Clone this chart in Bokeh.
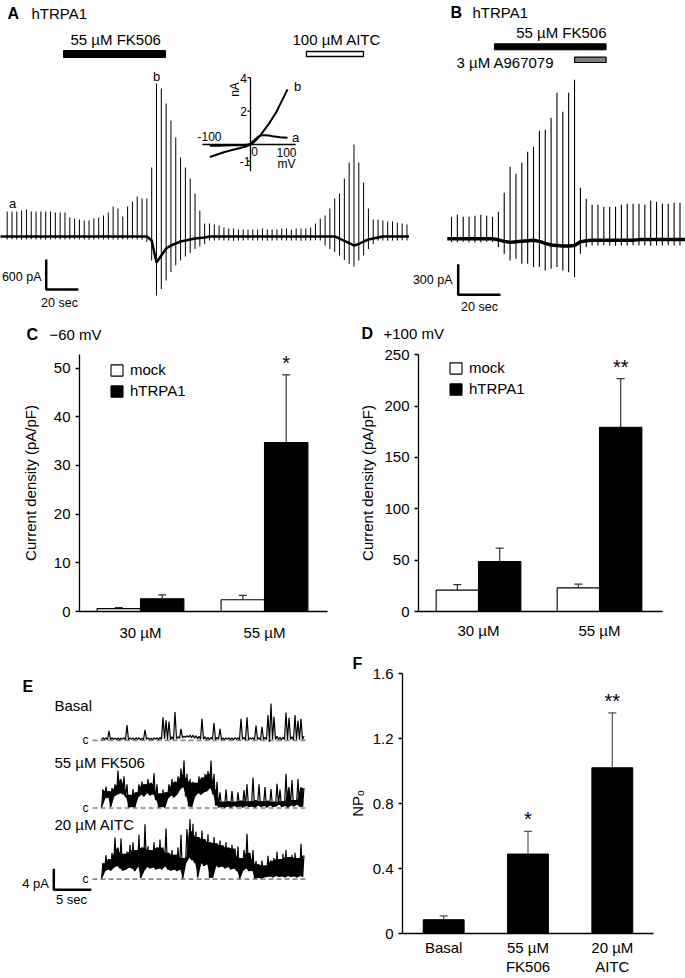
import math
from bokeh.plotting import figure
from bokeh.layouts import row, column
from bokeh.models import (Range1d, Label, Whisker, TeeHead, ColumnDataSource,
                          Legend, LegendItem, FixedTicker, Title)
from bokeh.embed import file_html
from bokeh.resources import INLINE
from bokeh.core.properties import value

FONT = "Liberation Sans"

# ============================ DATA ============================
# --- A: hTRPA1 whole-cell current, one voltage ramp every 3 s (pA) ---
a_ramp_interval = 3.0
a_peak = [500, 500, 500, 520, 540, 500, 500, 500, 500, 500, 480, 480, 480,
          380, 360, 340, 320, 320, 360, 380, 420, 480,
          600, 560, 400, 600, 700, 800, 760, 760,
          1380, 3060, 2960, 2660, 2320, 1980, 1580, 1380, 1160, 860, 520, 260,
          260, 240, 220, 180, 160, 160, 140, 140, 140, 140, 140, 160, 140, 140,
          140, 160, 160, 140, 160, 160, 160, 180,
          260, 360, 420, 560, 760, 860, 1160, 1480, 1840, 1480, 1080, 560, 340,
          340, 320, 300, 300, 280, 260, 240]
a_trough = [-60, -55, -60, -65, -60, -55, -60, -60, -65, -60, -55, -60, -60, -60, -55,
            -60, -60, -65, -60, -55, -60, -60, -60, -65, -60, -60, -55, -60, -65,
            -110,
            -480, -1180, -1050, -880, -710, -580, -480, -400, -330, -250, -200, -150,
            -80, -80, -75, -80, -80, -85, -80, -80, -75, -80, -80, -80, -85, -80,
            -80, -75, -80, -80, -80, -85, -80, -80, -75, -80,
            -180, -250, -310, -380, -470, -550, -600, -480, -380, -250, -150,
            -80, -80, -85, -80, -80, -75, -80]
a_hold = [0, 0, 0, 0, 0, 0, 0, 0, 0, 0, 0, 0, 0, 0, 0,
          0, 0, 0, 0, 0, 0, 0, 0, 0, 0, 0, 0, 0, 0, 0,
          -80, -520, -380, -240, -180, -140, -100, -80, -60, -40, -30, -20,
          0, 0, 0, 0, 0, 0, 0, 0, 0, 0, 0, 0, 0, 0,
          0, 0, 0, 0, 0, 0, 0, 0, 0, 0, 0, 0, 0,
          -40, -90, -130, -180, -150, -100, -60, -40, -20,
          0, 0, 0, 0, 0, 0]
a_record = [-4.5, 252.0]         # s
a_fk506 = [35.1, 98.6]           # s, application of 55 uM FK506
a_aitc = [186.4, 221.9]          # s, application of 100 uM AITC
a_scale = [20.0, 600.0]          # sec, pA

# inset I-V (mV, nA)
iv_mv = [-110, -90, -70, -50, -30, -10, 0, 10, 20, 30, 40, 50, 60, 70, 80, 90, 100]
iv_a = [-0.08, -0.07, -0.06, -0.05, -0.04, -0.02, 0.05, 0.25, 0.45, 0.55, 0.56,
        0.54, 0.5, 0.47, 0.44, 0.42, 0.4]
iv_b = [-0.75, -0.6, -0.45, -0.33, -0.22, -0.1, 0.0, 0.15, 0.38, 0.65, 0.95,
        1.25, 1.6, 1.95, 2.4, 2.85, 3.3]
iv_xlim = [-130, 122]
iv_ylim = [-1.6, 4.0]
iv_yticks = [-1, 2, 4]

# --- B: hTRPA1, ramps (pA) ---
b_ramp_interval = 2.77
b_peak = [215, 235, 215, 215, 225, 235, 225, 215, 264,
          450, 704, 636, 743, 851, 900, 1056, 1066, 1183, 1428, 1242, 1428, 1555,
          499, 391, 333, 333, 313, 313, 313, 333, 342, 342, 342, 333, 372, 362,
          342, 342, 352, 352]
b_trough = [-33, -33, -30, -33, -35, -33, -30, -33,
            -82, -147, -212, -196, -245, -245, -277, -277, -310, -293, -277, -310,
            -326, -375, -147, -82,
            -65, -65, -62, -65, -68, -65, -65, -62, -65, -65, -68, -65, -65, -62, -65, -65]
b_hold = [0, 0, 0, 0, 0, 0, 0, 0,
          -10, -25, -35, -30, -25, -20, -15, -25, -45, -60, -65, -70, -70, -65, -30, -20,
          -15, -15, -15, -15, -15, -15, -15, -15,
          -8, -8, -8, -8, -8, -8, -8, -8]
b_record = [-2.0, 112.0]
b_fk506 = [20.3, 73.1]
b_a967 = [58.2, 73.1]
b_scale = [20.0, 300.0]

# --- C / D: current density (pA/pF) ---
cd_groups = ["30 µM", "55 µM"]
c_mock = [0.6, 2.4]
c_mock_err = [0.8, 3.3]
c_trpa1 = [2.6, 34.7]
c_trpa1_err = [3.4, 48.6]
c_sig = ["", "*"]
d_mock = [20.8, 23.0]
d_mock_err = [26.2, 26.6]
d_trpa1 = [48.7, 179.5]
d_trpa1_err = [61.8, 226.8]
d_sig = ["", "**"]

# --- E: single-channel records (pA above closed level), sample every 0.4 s ---
e_dt = 0.4
e_names = ["Basal", "55 µM FK506", "20 µM AITC"]
basal_hi = [0.5, 0.5, 1.8, 0.5, 0.45, 0.5, 0.45, 0.5, 2.9, 0.5,
            0.45, 0.5, 0.5, 0.45, 2.0, 0.5, 0.45, 0.5, 0.5, 0.6,
            4.4, 3.8, 3.6, 0.7, 5.4, 0.7, 2.2, 0.8, 0.9, 1.0,
            1.0, 0.9, 0.8, 4.1, 0.7, 0.6, 0.6, 3.3, 0.6, 2.2,
            0.5, 0.5, 0.5, 0.5, 0.5, 0.5, 4.1, 0.6, 4.4, 0.5,
            0.5, 2.8, 0.5, 2.6, 0.6, 4.8, 7.0, 4.5, 0.8, 0.6,
            0.6, 5.3, 4.3, 0.7, 4.8, 3.7, 4.1, 0.8]
basal_lo = [0.15, 0.2, 0.1, 0.15, 0.2, 0.15, 0.1, 0.2, 0.15, 0.1,
            0.2, 0.15, 0.2, 0.1, 0.15, 0.2, 0.15, 0.1, 0.2, 0.15,
            0.2, 0.3, 0.2, 0.15, 0.2, 0.3, 0.4, 0.5, 0.6, 0.6,
            0.5, 0.4, 0.3, 0.2, 0.25, 0.2, 0.15, 0.2, 0.15, 0.2,
            0.1, 0.15, 0.2, 0.15, 0.1, 0.2, 0.15, 0.2, 0.1, 0.15,
            0.2, 0.15, 0.2, 0.1, 0.2, 0.15, -0.3, 0.2, 0.15, 0.2,
            0.1, 0.2, 0.15, 0.2, 0.1, 0.2, 0.15, 0.2]
fk_hi = [3.5, 4.0, 3.2, 3.8, 4.5, 7.1, 5.5, 6.0, 4.5, 2.5,
         3.6, 3.0, 4.5, 5.0, 4.5, 5.5, 4.8, 6.6, 4.5, 2.8,
         3.5, 3.0, 4.5, 5.5, 5.0, 6.0, 7.5, 9.0, 6.5, 5.5,
         5.0, 4.8, 6.0, 5.8, 6.5, 7.0, 9.0, 6.5, 5.0, 3.0,
         1.2, 3.5, 1.3, 3.2, 1.2, 3.0, 1.4, 3.4, 4.5, 1.3,
         5.8, 1.5, 4.5, 1.3, 4.0, 1.4, 3.6, 1.2, 4.6, 3.5,
         1.3, 6.5, 4.0, 5.3, 1.5, 5.5, 4.0, 3.8]
fk_lo = [0.1, 1.8, 2.0, 0.2, 2.2, 2.5, 2.8, 2.6, 2.0, 0.1,
         0.2, 0.1, 2.0, 2.5, 2.2, 2.8, 2.4, 2.6, 1.5, 0.1,
         0.2, 0.1, 1.8, 2.4, 2.0, 2.5, 3.5, 4.0, 2.2, 0.3,
         0.2, 2.2, 2.8, 2.5, 3.0, 3.2, 3.8, 2.6, 0.5, 0.1,
         0.2, 0.1, 0.3, 0.1, 0.4, 0.2, 0.3, 0.1, 0.4, 0.2,
         0.3, 0.1, 0.5, 0.2, 0.4, 0.1, 0.5, 0.2, 0.3, 0.6,
         0.2, 0.4, 0.1, 0.5, 0.3, 0.6, 0.2, 0.3]
aitc_hi = [3.0, 4.5, 3.8, 5.0, 7.9, 6.0, 7.7, 4.8, 5.2, 6.5,
           7.0, 5.5, 8.4, 6.0, 10.4, 6.2, 5.5, 7.0, 6.0, 7.5,
           6.0, 9.6, 5.0, 5.5, 4.6, 6.0, 8.4, 4.0, 9.5, 11.4,
           10.5, 9.0, 8.0, 9.2, 7.6, 8.5, 7.0, 8.0, 6.8, 7.3,
           6.4, 7.0, 6.0, 6.5, 5.8, 6.2, 4.0, 5.5, 8.6, 5.0,
           5.5, 3.4, 2.8, 3.5, 2.6, 4.4, 3.5, 4.0, 5.2, 3.8,
           4.8, 5.5, 4.2, 4.6, 5.0, 4.0, 6.7, 4.5]
aitc_lo = [0.1, 1.5, 1.8, 1.6, 2.2, 2.5, 2.0, 1.6, 1.8, 2.2,
           2.0, 1.5, 2.4, 0.2, 1.5, 2.3, 2.0, 2.2, 1.8, 2.0,
           1.8, 2.4, 1.8, 1.6, 1.8, 1.5, 1.8, 0.1, 3.0, 4.0,
           3.6, 3.0, 0.3, 3.0, 2.5, 2.8, 0.2, 0.3, 2.5, 2.2,
           2.4, 2.0, 2.3, 1.8, 2.0, 1.5, 0.1, 1.6, 2.0, 1.5,
           1.6, 0.1, 0.2, 0.1, 0.3, 0.4, 0.5, 0.3, 0.6, 0.4,
           0.5, 0.3, 0.6, 0.4, 0.5, 0.3, 0.6, 0.4]
e_scale = [5.0, 4.0]   # sec, pA

# --- F: NPo ---
f_labels = ["Basal", "55 µM\nFK506", "20 µM\nAITC"]
f_npo = [0.085, 0.489, 1.02]
f_err = [0.108, 0.628, 1.358]
f_sig = ["", "*", "**"]

# ============================ HELPERS ============================
def base_fig(w, h, xr, yr, axes=False, mb=(0, 0, 0, 0)):
    kw = {}
    if not axes:
        kw = dict(x_axis_location=None, y_axis_location=None)
    p = figure(width=w, height=h, x_range=Range1d(*xr), y_range=Range1d(*yr),
               toolbar_location=None, output_backend="svg", title=None, **kw)
    p.min_border_left, p.min_border_right, p.min_border_top, p.min_border_bottom = mb
    p.outline_line_color = None
    p.background_fill_color = "white"
    p.border_fill_color = "white"
    p.grid.visible = False
    return p


def put(p, conv, X, Y, text, size=15, align="left", bold=False, angle=0.0,
        baseline="middle"):
    x, y = conv(X, Y)
    p.add_layout(Label(x=x, y=y, text=text, text_font=FONT,
                       text_font_size=f"{size}px", text_align=align,
                       text_baseline=baseline, angle=angle,
                       text_font_style="bold" if bold else "normal",
                       text_color="black"))


def style_axes(p, xstand, ystand, ylab_stand):
    for ax in p.axis:
        ax.axis_line_width = 1.3
        ax.axis_line_color = "black"
        ax.major_tick_line_width = 1.3
        ax.major_tick_line_color = "black"
        ax.major_tick_out = 4
        ax.major_tick_in = 0
        ax.minor_tick_line_color = None
        ax.major_label_text_font = FONT
        ax.major_label_text_font_size = "15px"
        ax.major_label_text_color = "black"
        ax.axis_label_text_font = FONT
        ax.axis_label_text_font_size = "15px"
        ax.axis_label_text_font_style = "normal"
        ax.axis_label_text_color = "black"
    p.xaxis.major_tick_line_color = None
    p.xaxis.major_tick_out = 0
    p.xaxis.major_label_standoff = xstand
    p.yaxis.major_label_standoff = ystand
    p.yaxis.axis_label_standoff = ylab_stand


def zigzag(lo, hi, dt, offset):
    # noise drawn as an alternating path: band bottom at each sample, excursion between samples
    xs, ys = [], []
    for k, (l, h) in enumerate(zip(lo, hi)):
        xs += [k * dt, k * dt + dt / 2]
        ys += [l + offset, h + offset]
    return xs, ys


def dense_top(hi):
    # upper edge of the dense part of the band: lowest of neighbouring excursions
    n = len(hi)
    return [min(hi[max(0, k - 1):min(n, k + 2)]) for k in range(n)]


# ============================ PANEL A ============================
A_PXS = 1.6056            # px per second
conv_A = lambda X, Y: ((X - 6.67) / A_PXS, (236 - Y) * 20.0)
pa = base_fig(409, 318, ((0 - 6.67) / A_PXS, (409 - 6.67) / A_PXS),
              ((236 - 318) * 20.0, (236 - 0) * 20.0))
a_t = [a_ramp_interval * i for i in range(len(a_peak))]
pa.segment(x0=a_t, y0=a_trough, x1=a_t, y1=a_peak, line_color="black", line_width=1)
pa.line([a_record[0]] + a_t + [a_record[1]], [a_hold[0]] + a_hold + [a_hold[-1]],
        line_color="black", line_width=2.5)
_, y50 = conv_A(0, 50); _, y57 = conv_A(0, 57); _, y51 = conv_A(0, 51); _, y56 = conv_A(0, 56)
pa.quad(left=[a_fk506[0]], right=[a_fk506[1]], bottom=[y57], top=[y50],
        fill_color="black", line_color="black")
pa.quad(left=[a_aitc[0]], right=[a_aitc[1]], bottom=[y56], top=[y51],
        fill_color="white", line_color="black", line_width=1.3)
put(pa, conv_A, 7, 13, "A", size=16, bold=True)
put(pa, conv_A, 31, 13, "hTRPA1")
put(pa, conv_A, 70, 39, "55 µM FK506")
put(pa, conv_A, 292, 39, "100 µM AITC")
put(pa, conv_A, 12, 203, "a", size=13, align="center")
put(pa, conv_A, 156, 76, "b", size=13, align="center")
# scale bar
sx0, sy0 = conv_A(45.7, 289)
pa.line([sx0, sx0, sx0 + a_scale[0]], [sy0 + a_scale[1], sy0, sy0],
        line_color="black", line_width=2.5)
put(pa, conv_A, 41, 276, "600 pA", size=12.5, align="right")
put(pa, conv_A, 59, 302, "20 sec", size=12.5, align="center")
# inset I-V
IV_PXMV, IV_PXNA = 0.37, 16.7
pa.extra_x_ranges = {"mv": Range1d((0 - 250) / IV_PXMV, (409 - 250) / IV_PXMV)}
pa.extra_y_ranges = {"na": Range1d((144 - 318) / IV_PXNA, (144 - 0) / IV_PXNA)}
pa.segment(x0=[iv_xlim[0], 0], y0=[0, iv_ylim[0]], x1=[iv_xlim[1], 0], y1=[0, iv_ylim[1]],
           x_range_name="mv", y_range_name="na", line_color="black", line_width=1.3)
tick_len = 3 / IV_PXMV
pa.segment(x0=[-tick_len] * len(iv_yticks), y0=iv_yticks, x1=[0] * len(iv_yticks), y1=iv_yticks,
           x_range_name="mv", y_range_name="na", line_color="black", line_width=1.2)
pa.line(iv_mv, iv_a, x_range_name="mv", y_range_name="na", line_color="black", line_width=2)
pa.line(iv_mv, iv_b, x_range_name="mv", y_range_name="na", line_color="black", line_width=2)
put(pa, conv_A, 243, 78, "4", size=12, align="center")
put(pa, conv_A, 243, 111, "2", size=12, align="center")
put(pa, conv_A, 250, 161, "-1", size=12, align="right")
put(pa, conv_A, 234, 89, "nA", size=12, align="center", angle=math.pi / 2)
put(pa, conv_A, 209, 136, "-100", size=12, align="center")
put(pa, conv_A, 254, 151, "0", size=12, align="center")
put(pa, conv_A, 286, 152, "100", size=12, align="center")
put(pa, conv_A, 286, 163, "mV", size=12, align="center")
put(pa, conv_A, 295, 137, "a", size=13, align="center")
put(pa, conv_A, 297, 86, "b", size=13, align="center")

# ============================ PANEL B ============================
B_PXS, B_PAPX = 2.115, 9.78
conv_B = lambda X, Y: ((X - 451) / B_PXS, (238.3 - Y) * B_PAPX)
pb = base_fig(276, 318, ((409 - 451) / B_PXS, (685 - 451) / B_PXS),
              ((238.3 - 318) * B_PAPX, (238.3 - 0) * B_PAPX))
b_t = [b_ramp_interval * j for j in range(len(b_peak))]
pb.segment(x0=b_t, y0=b_trough, x1=b_t, y1=b_peak, line_color="black", line_width=1.1)
pb.line([b_record[0]] + b_t + [b_record[1]], [b_hold[0]] + b_hold + [b_hold[-1]],
        line_color="black", line_width=3.5)
_, yb1 = conv_B(0, 43.3); _, yb2 = conv_B(0, 49.3)
pb.quad(left=[b_fk506[0]], right=[b_fk506[1]], bottom=[yb2], top=[yb1],
        fill_color="black", line_color="black")
_, yg1 = conv_B(0, 56.7); _, yg2 = conv_B(0, 62)
pb.quad(left=[b_a967[0]], right=[b_a967[1]], bottom=[yg2], top=[yg1],
        fill_color="#808080", line_color="black", line_width=1.2)
put(pb, conv_B, 450, 11.5, "B", size=16, bold=True)
put(pb, conv_B, 472, 11.5, "hTRPA1")
put(pb, conv_B, 606, 32, "55 µM FK506", align="right")
put(pb, conv_B, 456, 61.5, "3 µM A967079")
bx0, by0 = conv_B(457.7, 294.3)
pb.line([bx0, bx0, bx0 + b_scale[0]], [by0 + b_scale[1], by0, by0],
        line_color="black", line_width=2.5)
put(pb, conv_B, 452, 279, "300 pA", size=12.5, align="right")
put(pb, conv_B, 479, 306, "20 sec", size=12.5, align="center")

# ============================ HEADER ROW (C / D titles) ============================
conv_H = lambda X, Y: (X, Y)
ph = base_fig(685, 28, (0, 685), (346, 318))
put(ph, conv_H, 26, 334, "C", size=16, bold=True)
put(ph, conv_H, 49, 334, "−60 mV")
put(ph, conv_H, 361, 333, "D", size=16, bold=True)
put(ph, conv_H, 383, 333, "+100 mV")

# ============================ PANEL C / D ============================
gpos = [1, 2]
BW = 0.35


def grouped_bars(p, mock, mock_err, trpa, trpa_err, sig, pxu, frame_h):
    xm = [g - BW / 2 for g in gpos]
    xt = [g + BW / 2 for g in gpos]
    r_m = p.vbar(x=xm, top=mock, width=BW, fill_color="white", line_color="black", line_width=1.1)
    r_t = p.vbar(x=xt, top=trpa, width=BW, fill_color="black", line_color="black", line_width=1.1)
    src = ColumnDataSource(dict(base=xm + xt, lower=mock + trpa, upper=mock_err + trpa_err))
    p.add_layout(Whisker(source=src, base="base", lower="lower", upper="upper",
                         line_color="#333333", line_width=1.2, lower_head=None,
                         upper_head=TeeHead(size=8, line_color="#333333", line_width=1.2)))
    ssrc = ColumnDataSource(dict(x=xt, y=[e + 12 / pxu for e in trpa_err], t=sig))
    p.text(x="x", y="y", text="t", source=ssrc, text_font=value(FONT), text_font_size="20px",
           text_align="center", text_baseline="middle", text_color="black")
    p.xaxis.ticker = FixedTicker(ticks=gpos)
    p.xaxis.major_label_overrides = dict(zip(gpos, cd_groups))
    leg = Legend(items=[LegendItem(label="mock", renderers=[r_m]),
                        LegendItem(label="hTRPA1", renderers=[r_t])],
                 location=(30, frame_h - 7 - 38), orientation="vertical",
                 glyph_width=15, glyph_height=14, label_height=14, label_standoff=6,
                 spacing=4, padding=0, margin=0, border_line_color=None,
                 background_fill_alpha=0, label_text_font=FONT,
                 label_text_font_size="15px", label_text_color="black")
    p.add_layout(leg)


C_PXU = 4.868
pc = base_fig(345, 299, (1 + (79 - 140) / 124, 1 + (327 - 140) / 124), (0, (611 - 354) / C_PXU),
              axes=True, mb=(79, 18, 8, 34))
style_axes(pc, 12, 5, 12)
pc.yaxis.ticker = FixedTicker(ticks=[0, 10, 20, 30, 40, 50])
pc.yaxis.axis_label = "Current density (pA/pF)"
grouped_bars(pc, c_mock, c_mock_err, c_trpa1, c_trpa1_err, c_sig, C_PXU, 257)

D_PXU = 1.0348
pd = base_fig(340, 299, (1 + (418 - 478) / 121, 1 + (662 - 478) / 121), (0, (613 - 354) / D_PXU),
              axes=True, mb=(73, 23, 8, 32))
style_axes(pd, 10, 5, 5)
pd.yaxis.ticker = FixedTicker(ticks=[0, 50, 100, 150, 200, 250])
pd.yaxis.axis_label = "Current density (pA/pF)"
grouped_bars(pd, d_mock, d_mock_err, d_trpa1, d_trpa1_err, d_sig, D_PXU, 259)

# ============================ PANEL E ============================
E_PXS, E_PXPA = 7.5, 6.75
conv_E = lambda X, Y: ((X - 101) / E_PXS, (730.7 - Y) / E_PXPA)
pe = base_fig(345, 333, ((0 - 101) / E_PXS, (345 - 101) / E_PXS),
              ((730.7 - 978) / E_PXPA, (730.7 - 645) / E_PXPA))
c_levels_px = (730.7, 817.3, 908.3)
e_offsets = [conv_E(0, Y)[1] for Y in c_levels_px]
e_label_y = [686, 759, 839]
e_filled = [False, True, True]
dx0, _ = conv_E(92, 0); dx1, _ = conv_E(308, 0)
for off, (lo, hi), name, ly, cy, filled in zip(
        e_offsets, [(basal_lo, basal_hi), (fk_lo, fk_hi), (aitc_lo, aitc_hi)],
        e_names, e_label_y, c_levels_px, e_filled):
    pe.line([dx0, dx1], [off, off], line_color="#8c8c8c", line_width=1.6, line_dash="5 3")
    if filled:
        tk = [k * e_dt + e_dt / 4 for k in range(len(lo))]
        band = dense_top(hi)
        pe.varea(x=tk, y1=[v + off for v in lo], y2=[max(b, l) + off for b, l in zip(band, lo)],
                 fill_color="black", fill_alpha=1.0)
    xs, ys = zigzag(lo, hi, e_dt, off)
    pe.line(xs, ys, line_color="black", line_width=1.2)
    put(pe, conv_E, 54, ly, name)
    put(pe, conv_E, 85, cy, "c", size=12, align="center")
put(pe, conv_E, 22, 662, "E", size=16, bold=True)
ex0, ey0 = conv_E(53.3, 922)
pe.line([ex0, ex0, ex0 + e_scale[0]], [ey0 + e_scale[1], ey0, ey0],
        line_color="black", line_width=2.5)
put(pe, conv_E, 48.5, 914, "4 pA", size=13, align="right")
put(pe, conv_E, 71, 934, "5 sec", size=13, align="center")

# ============================ PANEL F ============================
F_PXU = 261 / 1.6
fpos = [1, 2, 3]
pf = base_fig(340, 333, (1 + (397 - 439) / 86, 1 + (653 - 439) / 86), (0, 1.6),
              axes=True, mb=(52, 32, 28, 44))
style_axes(pf, 5, 5, 4)
pf.xaxis.major_label_text_line_height = 1.15
pf.yaxis.ticker = FixedTicker(ticks=[0, 0.4, 0.8, 1.2, 1.6])
pf.yaxis.major_label_overrides = {0: "0"}
pf.yaxis.axis_label = "NPₒ"
pf.xaxis.ticker = FixedTicker(ticks=fpos)
pf.xaxis.major_label_overrides = dict(zip(fpos, f_labels))
pf.vbar(x=fpos, top=f_npo, width=0.485, fill_color="black", line_color="black")
pf.add_layout(Whisker(source=ColumnDataSource(dict(base=fpos, lower=f_npo, upper=f_err)),
                      base="base", lower="lower", upper="upper", line_color="#555555",
                      line_width=1.2, lower_head=None,
                      upper_head=TeeHead(size=8, line_color="#555555", line_width=1.2)))
pf.text(x=fpos, y=[e + 12 / F_PXU for e in f_err], text=f_sig, text_font=value(FONT),
        text_font_size="20px", text_align="center", text_baseline="middle", text_color="black")
pf.add_layout(Title(text="F", align="left", offset=-50, standoff=3, text_font=FONT,
                    text_font_size="16px", text_font_style="bold", text_color="black"), "above")

layout = column(row(pa, pb), ph, row(pc, pd), row(pe, pf))
open("out.html", "w").write(file_html(layout, INLINE))
